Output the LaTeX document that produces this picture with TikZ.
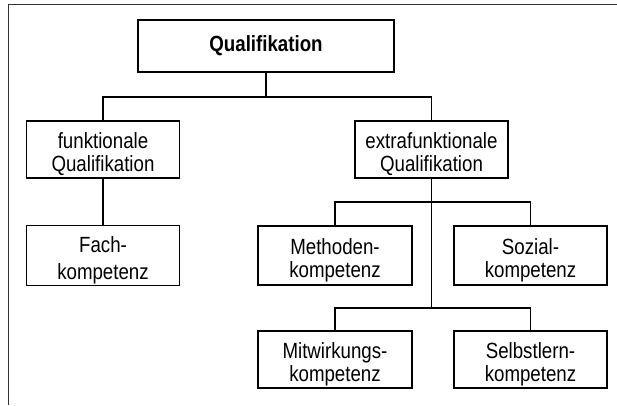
\documentclass[tikz,border=0pt]{standalone}
\usepackage{fontspec}
\setmainfont[FakeStretch=0.85]{Liberation Sans}
% struts fixing the first-line height and last-line depth of box texts
\newcommand{\firstln}{\rule{0pt}{27pt}}
\newcommand{\lastln}{\rule[-6pt]{0pt}{6pt}}
\begin{document}
\begin{tikzpicture}[x=1pt,y=-1pt,
  box/.style={draw, line width=1.8pt, align=center, inner sep=0pt,
    minimum width=153pt, minimum height=58pt,
    font=\fontsize{22}{23}\selectfont},
  link/.style={line width=1.8pt},
  frame/.style={line width=1pt, draw=black!80}]
\useasboundingbox (0,0) rectangle (617,405);
% outer frame (top and left edges)
\draw[frame] (617,4) -- (8,4) -- (8,405);
% boxes
\node[box, minimum width=256pt, minimum height=52pt, font=\fontsize{22}{23}\selectfont\bfseries] (q) at (266,46) {Qualifikation};
\node[box, minimum height=57pt] (funk) at (103,149.5) {\firstln funktionale\\Qualifikation\lastln};
\node[box, minimum height=57pt] (extra) at (431.5,149.5) {\firstln extrafunktionale\\Qualifikation\lastln};
\node[box, minimum height=59pt] (fach) at (103,255.5) {\firstln Fach-\\[4pt]kompetenz\lastln};
\node[box, minimum width=154pt, minimum height=59pt] (meth) at (335,255.5) {\firstln Methoden-\\kompetenz\lastln};
\node[box, minimum height=59pt] (soz) at (530.5,255.5) {\firstln Sozial-\\kompetenz\lastln};
\node[box, minimum width=154pt, minimum height=57pt] (mit) at (335,359.5) {\firstln Mitwirkungs-\\kompetenz\lastln};
\node[box, minimum height=57pt] (selb) at (530.5,359.5) {\firstln Selbstlern-\\kompetenz\lastln};
% junctions
\coordinate (j1) at (266,97);
\coordinate (j2) at (431.5,202);
\coordinate (j3) at (431.5,308);
% connectors
\draw[link] (q.south) -- (j1);
\draw[link] (j1) -| (funk.north);
\draw[link] (j1) -| (extra.north);
\draw[link] (funk.south) -- (fach.north);
\draw[link] (extra.south) -- (j3);
\draw[link] (j2) -| (meth.north);
\draw[link] (j2) -| (soz.north);
\draw[link] (j3) -| (mit.north);
\draw[link] (j3) -| (selb.north);
\end{tikzpicture}
\end{document}
